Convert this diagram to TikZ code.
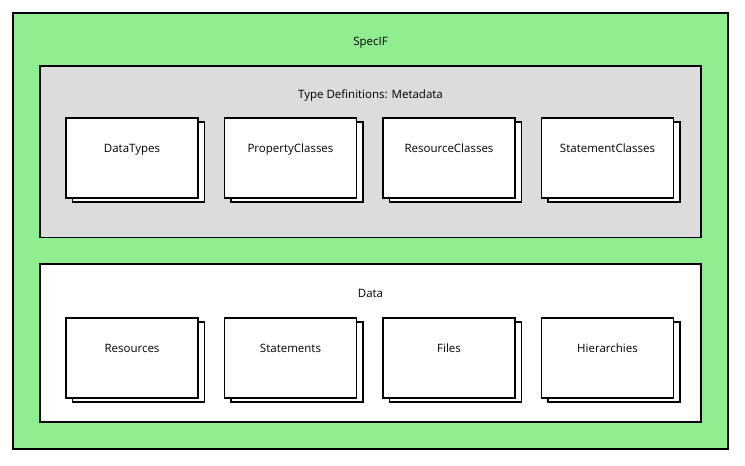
\documentclass[tikz,border=0pt]{standalone}
\usepackage{fontspec}
\setmainfont{Open Sans}
\usetikzlibrary{positioning, shadows}

\begin{document}
\begin{tikzpicture}[x=1pt, y=1pt, font=\fontsize{11.5}{13}\selectfont]
\useasboundingbox (0,0) rectangle (745,-466);
\definecolor{specgreen}{HTML}{90EE90}
\definecolor{metagray}{HTML}{DCDCDC}
\tikzset{
  container/.style={draw, line width=1.8pt, inner sep=0pt},
  title/.style={anchor=center, yshift=-30.5pt},
  item/.style={draw, line width=1.8pt, fill=white, minimum width=132pt,
    minimum height=80pt, text depth=20pt, inner sep=0pt,
    copy shadow={shadow xshift=6.5pt, shadow yshift=-4pt, fill=white,
      draw=black, line width=1.8pt}},
  node distance=24.7pt
}
\node[container, fill=specgreen, minimum width=715pt, minimum height=436pt,
  label={[title]north:SpecIF}] (specif) at (370.5,-231) {};
\node[container, fill=metagray, minimum width=661pt, minimum height=171.5pt,
  label={[title]north:Type Definitions: Metadata}] (meta) at (370.5,-151.75) {};
\node[container, fill=white, minimum width=661pt, minimum height=158pt,
  label={[title]north:Data}] (data) at (370.5,-343) {};

\node[item] (datatypes) at (132,-158) {DataTypes};
\node[item, right=of datatypes] (propclasses) {PropertyClasses};
\node[item, right=of propclasses] (resclasses) {ResourceClasses};
\node[item, right=of resclasses] (stmtclasses) {StatementClasses};

\node[item, below=118.2pt of datatypes] (resources) {Resources};
\node[item, right=of resources] (statements) {Statements};
\node[item, right=of statements] (files) {Files};
\node[item, right=of files] (hierarchies) {Hierarchies};
\end{tikzpicture}
\end{document}
